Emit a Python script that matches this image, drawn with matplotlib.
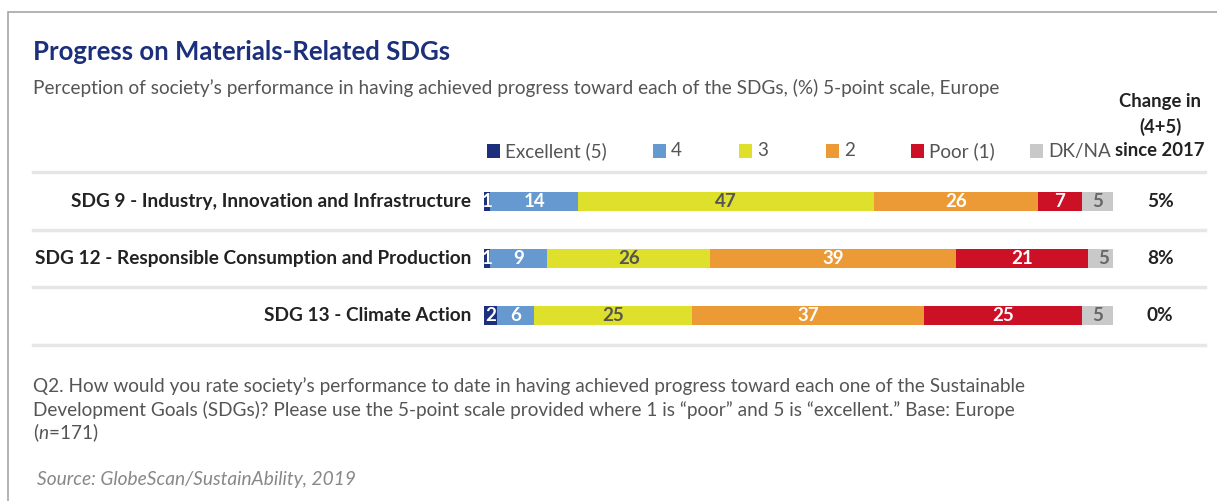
import numpy as np
import matplotlib
matplotlib.use('agg')
import matplotlib.pyplot as plt
from matplotlib.lines import Line2D
from matplotlib.patches import Rectangle

# data
goals = ['SDG 9 - Industry, Innovation and Infrastructure',
         'SDG 12 - Responsible Consumption and Production',
         'SDG 13 - Climate Action']
categories = ['Excellent (5)', '4', '3', '2', 'Poor (1)', 'DK/NA']
excellent = [1, 1, 2]
four = [14, 9, 6]
three = [47, 26, 25]
two = [26, 39, 37]
poor = [7, 21, 25]
dkna = [5, 5, 5]
change = ['5%', '8%', '0%']

colors = ['#1b2f7c', '#6699cf', '#dfe02c', '#ec9a35', '#cc1026', '#c9c9c9']
txt_colors = ['white', 'white', '#555555', 'white', 'white', '#666666']

plt.rcParams['font.family'] = ['Lato', 'DejaVu Sans']
plt.rcParams['mathtext.fontset'] = 'custom'
plt.rcParams['mathtext.rm'] = 'Lato'
plt.rcParams['mathtext.it'] = 'Lato:italic'

W, H = 1217, 501
fig = plt.figure(figsize=(W / 100, H / 100), dpi=100)

def fx(px):
    return px / W

def fy(py):
    return 1 - py / H

# outer frame
fig.patches.append(Rectangle((fx(8), fy(600)), 2, fy(12) - fy(600), transform=fig.transFigure,
                             fill=False, edgecolor='#a6a6a6', lw=1.2))

fig.text(fx(33), fy(52), 'Progress on Materials-Related SDGs', fontsize=18.5, fontweight='bold',
         color='#1b2f7c', va='center')
fig.text(fx(33), fy(88), 'Perception of society\u2019s performance in having achieved progress toward each of the SDGs, (%) 5-point scale, Europe',
         fontsize=13.7, color='#555555', va='center')

# header of change column
for i, line in enumerate(['Change in', '(4+5)', 'since 2017']):
    fig.text(fx(1160), fy(102 + 24.5 * i), line, fontsize=13.3, fontweight='bold', color='#222222',
             ha='center', va='center')

# legend
leg_x = [487, 653, 739, 826, 911, 1030]
for x, c, lab in zip(leg_x, colors, categories):
    fig.patches.append(Rectangle((fx(x), fy(158)), fx(13), fy(144) - fy(158), transform=fig.transFigure,
                                 facecolor=c, edgecolor='none'))
    fig.text(fx(x + 18), fy(151), lab, fontsize=13.6, color='#555555', va='center')

# separator lines
for y in [172, 230, 287, 345]:
    fig.add_artist(Line2D([fx(33), fx(1205)], [fy(y), fy(y)], color='#e6e6e6', lw=2.5,
                          transform=fig.transFigure))

ax = fig.add_axes([fx(484), fy(344), fx(629), fy(173) - fy(344)])
ax.set_xlim(0, 100)
ax.set_ylim(3, 0)
ax.axis('off')

ypos = np.arange(len(goals)) + 0.5
series = [excellent, four, three, two, poor, dkna]
left = np.zeros(len(goals))
for vals, c, tc in zip(series, colors, txt_colors):
    vals = np.array(vals, dtype=float)
    ax.barh(ypos, vals, left=left, height=0.34, color=c, edgecolor='none')
    for y, l, v in zip(ypos, left, vals):
        ax.text(l + v / 2, y, f'{v:.0f}', ha='center', va='center', color=tc,
                fontsize=13.5, fontweight='bold')
    left = left + vals

for y, g, ch in zip(ypos, goals, change):
    ax.text(-2, y, g, ha='right', va='center', fontsize=13.7, fontweight='bold', color='#222222')
    ax.text(107.5, y, ch, ha='center', va='center', fontsize=13.7, fontweight='bold', color='#222222')

foot = ['Q2. How would you rate society\u2019s performance to date in having achieved progress toward each one of the Sustainable',
        'Development Goals (SDGs)? Please use the 5-point scale provided where 1 is \u201cpoor\u201d and 5 is \u201cexcellent.\u201d Base: Europe',
        '($\\it{n}$=171)']
for i, line in enumerate(foot):
    fig.text(fx(33), fy(386 + 23.5 * i), line, fontsize=13.7, color='#555555', va='center')
fig.text(fx(37), fy(479), 'Source: GlobeScan/SustainAbility, 2019', fontsize=13.8, color='#888888',
         style='italic', va='center')

fig.savefig('out.png', dpi=100)
